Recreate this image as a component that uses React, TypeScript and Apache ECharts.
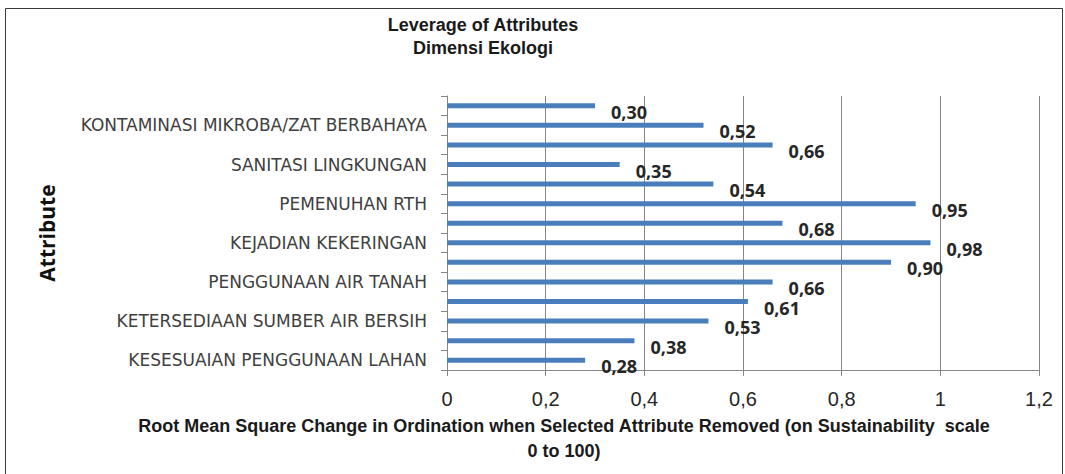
import React, { useEffect, useRef } from "react";
import * as echarts from "echarts";

// bottom-to-top order (ECharts category y-axis starts at the bottom)
const categories: string[] = [
  "KESESUAIAN PENGGUNAAN LAHAN",
  "",
  "KETERSEDIAAN SUMBER AIR BERSIH",
  "",
  "PENGGUNAAN AIR TANAH",
  "",
  "KEJADIAN KEKERINGAN",
  "",
  "PEMENUHAN RTH",
  "",
  "SANITASI LINGKUNGAN",
  "",
  "KONTAMINASI MIKROBA/ZAT BERBAHAYA",
  "",
];
const values: number[] = [0.28, 0.38, 0.53, 0.61, 0.66, 0.9, 0.98, 0.68, 0.95, 0.54, 0.35, 0.66, 0.52, 0.3];

const titleLines = ["Leverage of Attributes", "Dimensi Ekologi"];
const xAxisNameLines = [
  "Root Mean Square Change in Ordination when Selected Attribute Removed (on Sustainability  scale",
  "0 to 100)",
];
const yAxisName = "Attribute";
const xMin = 0;
const xMax = 1.2;
const xInterval = 0.2;

export default function App() {
  const ref = useRef<HTMLDivElement>(null);
  useEffect(() => {
    if (!ref.current) return;
    const chart = echarts.init(ref.current, null, { renderer: "svg" });
    const sans = "'Liberation Sans', Arial, sans-serif";
    chart.setOption({
      animation: false,
      backgroundColor: "#ffffff",
      title: {
        text: titleLines.join("\n"),
        left: 478,
        textAlign: "center",
        top: 8,
        textStyle: {
          fontFamily: sans,
          fontWeight: "bold",
          fontSize: 18,
          lineHeight: 23,
          color: "#1a1a1a",
        },
      },
      graphic: [
        {
          type: "rect",
          shape: { x: 5.5, y: 8.5, width: 1057, height: 480 },
          style: { fill: "none", stroke: "#3a3a3a", lineWidth: 1 },
          silent: true,
        },
        {
          type: "text",
          x: 564,
          y: 438,
          style: {
            text: xAxisNameLines.join("\n"),
            fontFamily: sans,
            fontWeight: "bold",
            fontSize: 18,
            lineHeight: 25,
            fill: "#1a1a1a",
            align: "center",
            verticalAlign: "middle",
          },
          silent: true,
        },
      ],
      grid: { left: 447, right: 26, top: 96, bottom: 104, containLabel: false },
      xAxis: {
        type: "value",
        min: xMin,
        max: xMax,
        interval: xInterval,
        axisLine: { show: true, lineStyle: { color: "#868686", width: 1 } },
        axisTick: { show: true, length: 6, lineStyle: { color: "#868686" } },
        splitLine: { show: true, lineStyle: { color: "#868686", width: 1 } },
        axisLabel: {
          margin: 19,
          fontFamily: sans,
          fontSize: 20,
          color: "#262626",
          formatter: (v: number) => String(Math.round(v * 10) / 10).replace(".", ","),
        },
      },
      yAxis: {
        type: "category",
        data: categories,
        name: yAxisName,
        nameLocation: "middle",
        nameGap: 390,
        nameRotate: 90,
        nameTextStyle: {
          fontFamily: "'Open Sans', sans-serif",
          fontWeight: "bold",
          fontSize: 21,
          color: "#111111",
        },
        axisLine: { show: true, lineStyle: { color: "#868686", width: 1 } },
        axisTick: { show: true, length: 6, alignWithLabel: false, interval: 0, lineStyle: { color: "#868686" } },
        splitLine: { show: false },
        axisLabel: {
          interval: 0,
          margin: 20,
          fontFamily: "'DejaVu Sans', sans-serif",
          fontSize: 17,
          color: "#404040",
        },
      },
      series: [
        {
          type: "bar",
          data: values,
          barWidth: 5,
          itemStyle: { color: "#4a7ebb" },
          label: {
            show: true,
            position: "right",
            distance: 16,
            offset: [0, 6],
            fontFamily: "'Open Sans', sans-serif",
            fontWeight: "bold",
            fontSize: 18,
            color: "#262626",
            formatter: (p: any) => p.value.toFixed(2).replace(".", ","),
          },
        },
      ],
    });
    return () => chart.dispose();
  }, []);
  return (
    <div
      ref={ref}
      style={{ position: "absolute", left: 0, top: 0, width: 1065, height: 474 }}
    />
  );
}
